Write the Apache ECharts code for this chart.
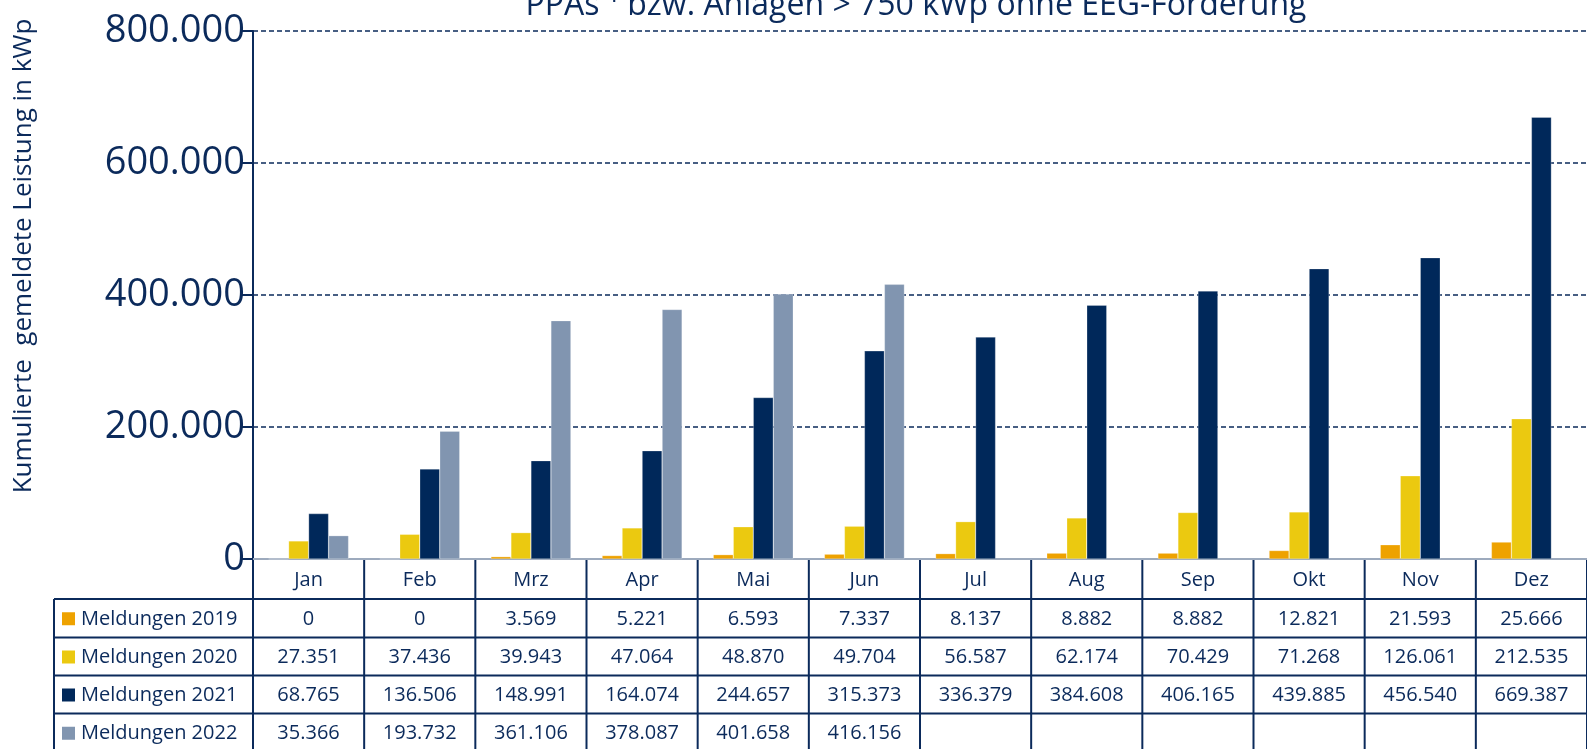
<!DOCTYPE html>
<html>
<head>
<meta charset="utf-8">
<script src="https://cdn.jsdelivr.net/npm/echarts@6/dist/echarts.min.js"></script>
<style>
  html, body { margin: 0; padding: 0; background: #fff; }
  #chart { width: 1587px; height: 749px; }
</style>
</head>
<body>
<div id="chart"></div>
<script>
// Daten
const months = ['Jan', 'Feb', 'Mrz', 'Apr', 'Mai', 'Jun', 'Jul', 'Aug', 'Sep', 'Okt', 'Nov', 'Dez']
const seriesNames = ['Meldungen 2019', 'Meldungen 2020', 'Meldungen 2021', 'Meldungen 2022']
const m2019 = [0, 0, 3569, 5221, 6593, 7337, 8137, 8882, 8882, 12821, 21593, 25666]
const m2020 = [27351, 37436, 39943, 47064, 48870, 49704, 56587, 62174, 70429, 71268, 126061, 212535]
const m2021 = [68765, 136506, 148991, 164074, 244657, 315373, 336379, 384608, 406165, 439885, 456540, 669387]
const m2022 = [35366, 193732, 361106, 378087, 401658, 416156, null, null, null, null, null, null]
const yTicks = [0, 200000, 400000, 600000, 800000]

const colors = ['#EEA200', '#EBC910', '#00285A', '#8195B0']
const navy = '#0B2A5B'
const font = '"Open Sans", sans-serif'

// Tausenderpunkt
function fmt (v) {
    return String(v).replace(/\B(?=(\d{3})+(?!\d))/g, '.')
}

const chart = echarts.init(document.getElementById('chart'))

const allData = [m2019, m2020, m2021, m2022]

chart.setOption({
    animation: false,
    grid: { left: 253, right: -3, top: 31, bottom: 749 - 559 },
    xAxis: {
        type: 'category',
        data: months,
        axisLine: { lineStyle: { color: '#9DAABD', width: 2 } },
        axisTick: { show: false },
        axisLabel: { show: false }
    },
    yAxis: {
        type: 'value',
        min: yTicks[0],
        max: yTicks[yTicks.length - 1],
        interval: 200000,
        axisLine: { show: true, lineStyle: { color: navy, width: 2 } },
        axisTick: { show: true, length: 11, lineStyle: { color: navy, width: 2 } },
        axisLabel: { formatter: fmt, fontSize: 38, color: navy, fontFamily: font, margin: 8 },
        splitLine: { lineStyle: { color: navy, type: [5, 3], width: 1.6 } }
    },
    series: allData.map((d, i) => ({
        type: 'bar',
        name: seriesNames[i],
        data: d,
        barWidth: 20,
        barGap: '0%',
        itemStyle: { color: colors[i], borderColor: 'rgba(255,255,255,0.5)', borderWidth: 0.5 }
    }))
})

// Titel, Achsentitel und Datentabelle
const g = []
g.push({
    type: 'text',
    style: { text: 'PPAs ¹ bzw. Anlagen > 750 kWp ohne EEG-Förderung', x: 916, y: 22, align: 'center', verticalAlign: 'bottom', fill: navy, font: '32px ' + font }
})
g.push({
    type: 'text',
    rotation: Math.PI / 2,
    x: 24, y: 256,
    style: { text: 'Kumulierte  gemeldete Leistung in kWp', x: 0, y: 0, align: 'center', verticalAlign: 'middle', fill: navy, font: '26px ' + font }
})

const rowTop = [559, 599, 637.5, 675.5, 713.5, 752]
const legLeft = 54
const axisX = 253
const c0 = chart.convertToPixel({ xAxisIndex: 0 }, months[0])
const c1 = chart.convertToPixel({ xAxisIndex: 0 }, months[1])
const cw = c1 - c0
const lineStyle = { stroke: navy, lineWidth: 2 }
const cellFont = '20px ' + font

// horizontale Linien
g.push({ type: 'line', shape: { x1: axisX, y1: rowTop[0], x2: 1587, y2: rowTop[0] }, style: lineStyle })
for (let r = 1; r < rowTop.length; r++) {
    g.push({ type: 'line', shape: { x1: legLeft, y1: rowTop[r], x2: 1587, y2: rowTop[r] }, style: lineStyle })
}
// vertikale Linien
g.push({ type: 'line', shape: { x1: legLeft, y1: rowTop[1], x2: legLeft, y2: 749 }, style: lineStyle })
for (let i = 0; i <= months.length; i++) {
    const x = c0 - cw / 2 + i * cw
    g.push({ type: 'line', shape: { x1: x, y1: rowTop[0], x2: x, y2: 749 }, style: lineStyle })
}
// Monate
months.forEach((m, i) => {
    const x = chart.convertToPixel({ xAxisIndex: 0 }, m)
    g.push({ type: 'text', style: { text: m, x: x, y: (rowTop[0] + rowTop[1]) / 2 + 1, align: 'center', verticalAlign: 'middle', fill: navy, font: cellFont } })
})
// Legende + Werte
allData.forEach((d, s) => {
    const yc = (rowTop[s + 1] + rowTop[s + 2]) / 2 + 1
    g.push({ type: 'rect', shape: { x: 62, y: yc - 7, width: 13, height: 13 }, style: { fill: colors[s] } })
    g.push({ type: 'text', style: { text: seriesNames[s], x: 81, y: yc, align: 'left', verticalAlign: 'middle', fill: navy, font: cellFont } })
    d.forEach((v, i) => {
        if (v === null) return
        const x = chart.convertToPixel({ xAxisIndex: 0 }, months[i])
        g.push({ type: 'text', style: { text: fmt(v), x: x, y: yc, align: 'center', verticalAlign: 'middle', fill: navy, font: cellFont } })
    })
})

chart.setOption({ graphic: g })
</script>
</body>
</html>
